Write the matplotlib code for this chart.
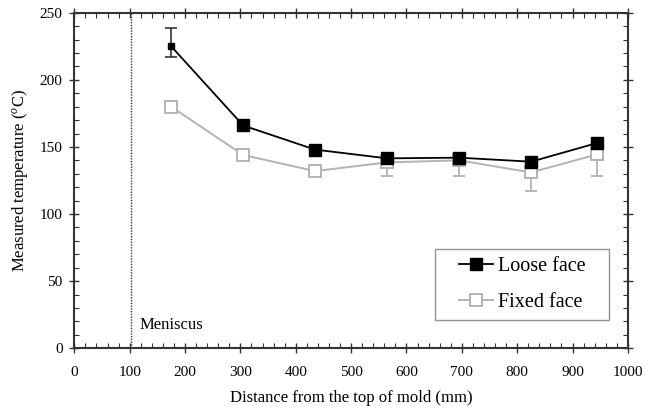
import numpy as np
import matplotlib
matplotlib.use("Agg")
import matplotlib.pyplot as plt
from matplotlib.ticker import MultipleLocator
from matplotlib.legend_handler import HandlerLine2D

plt.rcParams['font.family'] = ['Liberation Serif', 'DejaVu Serif']
plt.rcParams['mathtext.fontset'] = 'custom'
plt.rcParams['mathtext.rm'] = 'Liberation Serif'
plt.rcParams['mathtext.it'] = 'Liberation Serif:italic'

# Datos
dist = [175, 305, 435, 565, 695, 825, 945]
loose = [225, 166, 148, 141.5, 142, 139, 153]
fixed = [180, 144, 132, 138.5, 140, 131, 144.5]
loose_err_low = [8, 0, 0, 0, 0, 0, 0]
loose_err_high = [13.5, 0, 0, 0, 0, 0, 0]
fixed_err_low = [0, 0, 0, 10, 12, 14, 16.5]
meniscus = 102

gris = '#b3b3b3'

fig = plt.figure(figsize=(6.52, 4.13), dpi=100)
ax = fig.add_axes([0.114, 0.157, 0.849, 0.812])

# cara fija (gris, cuadros abiertos) con barras de error hacia abajo
ax.errorbar(dist, fixed, yerr=[fixed_err_low, [0] * len(dist)], fmt='none',
            ecolor=gris, elinewidth=1.3, capsize=4.5, capthick=1.3, zorder=2)
ax.plot(dist, fixed, color=gris, lw=1.4, marker='s', ms=8.5, mfc='white',
        mec=gris, mew=1.4, label='Fixed face', zorder=3)

# cara suelta (negro); el primer punto lleva marcador pequeno
ax.errorbar(dist[:1], loose[:1], yerr=[loose_err_low[:1], loose_err_high[:1]], fmt='none',
            ecolor='#222222', elinewidth=1.1, capsize=4.5, capthick=1.1, zorder=4)
ax.plot(dist, loose, color='black', lw=1.3, marker='s', ms=8,
        markevery=slice(1, None), label='Loose face', zorder=5)
ax.plot(dist[:1], loose[:1], 's', color='black', ms=4.5, zorder=6)

# menisco
ax.axvline(meniscus, color='#333333', lw=1.0, ls=(0, (1, 1)), zorder=1)
ax.text(meniscus + 15, 17, 'Meniscus', fontsize=12, va='center', ha='left')

ax.set_xlim(0, 1000)
ax.set_ylim(0, 250)
ax.xaxis.set_major_locator(MultipleLocator(100))
ax.xaxis.set_minor_locator(MultipleLocator(20))
ax.yaxis.set_major_locator(MultipleLocator(50))
ax.yaxis.set_minor_locator(MultipleLocator(10))
ax.tick_params(which='major', direction='inout', length=7, width=1.0,
               top=True, right=True, labelsize=11, color='#333333')
ax.tick_params(axis='x', which='major', pad=9.5)
ax.tick_params(axis='y', which='major', pad=5)
ax.tick_params(which='minor', direction='in', length=3.5, width=0.8,
               top=True, right=True, color='#333333')
for s in ax.spines.values():
    s.set_linewidth(1.5)
    s.set_color('#333333')

ax.set_xlabel('Distance from the top of mold (mm)', fontsize=12, labelpad=8)
ax.set_ylabel('Measured temperature ($^o$C)', fontsize=12, labelpad=7)

h, l = ax.get_legend_handles_labels()
leg = ax.legend(h[::-1], l[::-1], loc='lower left', mode='expand',
                bbox_to_anchor=(0.651, 0.0835, 0.315, 0.22),
                fontsize=14.5, frameon=True, fancybox=False, edgecolor='#777777',
                handlelength=2.5, borderpad=0.4, labelspacing=0.85, handletextpad=0.25,
                borderaxespad=0, handler_map={plt.Line2D: HandlerLine2D(xpad=0.8)})
leg.get_frame().set_linewidth(1.0)

fig.savefig('out.png', dpi=100)
